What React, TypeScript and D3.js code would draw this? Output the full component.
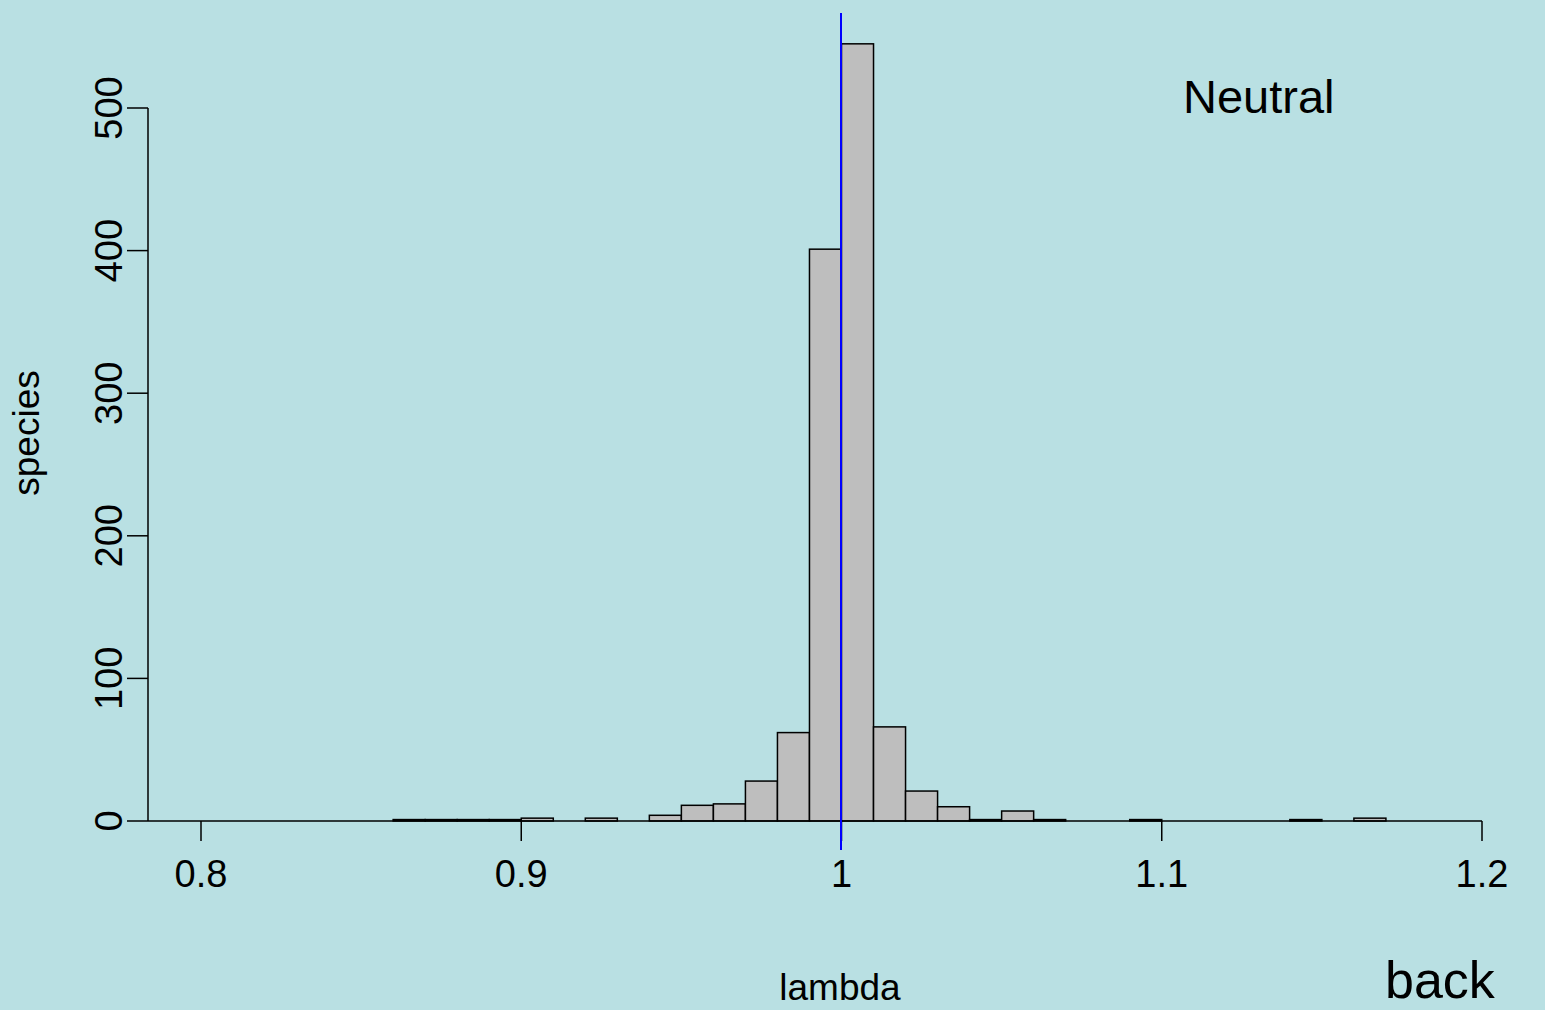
import { useEffect, useRef } from 'react';
import * as d3 from 'd3';

// histogram bins (lower edge) and species counts per bin, width 0.01
const binStarts = [
  0.86, 0.87, 0.88, 0.89, 0.9, 0.91, 0.92, 0.93, 0.94, 0.95, 0.96,
  0.97, 0.98, 0.99, 1.0, 1.01, 1.02, 1.03, 1.04, 1.05, 1.06, 1.07,
  1.08, 1.09, 1.1, 1.11, 1.12, 1.13, 1.14, 1.15, 1.16,
];
const counts = [
  1, 1, 1, 1, 2, 0, 2, 0, 4, 11, 12,
  28, 62, 401, 545, 66, 21, 10, 1, 7, 1, 0,
  0, 1, 0, 0, 0, 0, 1, 0, 2,
];
const binWidth = 0.01;
const xTicks = [0.8, 0.9, 1.0, 1.1, 1.2];
const xTickLabels = ['0.8', '0.9', '1', '1.1', '1.2'];
const yTicks = [0, 100, 200, 300, 400, 500];
const refLine = 1.0;

const W = 1545;
const H = 1010;
const FONT = '"Liberation Sans", Arial, Helvetica, sans-serif';

export default function App() {
  const svgRef = useRef<SVGSVGElement>(null);

  useEffect(() => {
    document.body.style.margin = '0';
    if (!svgRef.current) return;

    const svg = d3.select(svgRef.current);
    svg.selectAll('*').remove();

    const x = d3.scaleLinear().domain([0.8, 1.2]).range([201, 1482]);
    const y = d3.scaleLinear().domain([0, 500]).range([821, 108]);

    svg.append('rect')
      .attr('width', W)
      .attr('height', H)
      .attr('fill', '#b9e0e3');

    const bins = binStarts.map((b, i) => ({ x0: b, x1: b + binWidth, n: counts[i] }));

    svg.append('g')
      .selectAll('rect')
      .data(bins)
      .join('rect')
      .attr('x', d => x(d.x0))
      .attr('y', d => y(d.n))
      .attr('width', d => x(d.x1) - x(d.x0))
      .attr('height', d => y(0) - y(d.n))
      .attr('fill', '#bebebe')
      .attr('stroke', '#000')
      .attr('stroke-width', 1.5);

    // baseline / x axis line
    svg.append('line')
      .attr('x1', 148)
      .attr('x2', x(1.2))
      .attr('y1', y(0))
      .attr('y2', y(0))
      .attr('stroke', '#000')
      .attr('stroke-width', 1.5);

    const xAxis = svg.append('g').attr('font-family', FONT);
    xTicks.forEach((t, i) => {
      xAxis.append('line')
        .attr('x1', x(t)).attr('x2', x(t))
        .attr('y1', y(0)).attr('y2', y(0) + 20)
        .attr('stroke', '#000')
        .attr('stroke-width', 1.5);
      xAxis.append('text')
        .attr('x', x(t))
        .attr('y', 887)
        .attr('text-anchor', 'middle')
        .attr('font-size', 38)
        .text(xTickLabels[i]);
    });

    // y axis
    const yAxis = svg.append('g').attr('font-family', FONT);
    yAxis.append('line')
      .attr('x1', 148).attr('x2', 148)
      .attr('y1', y(0)).attr('y2', y(500))
      .attr('stroke', '#000')
      .attr('stroke-width', 1.5);
    yTicks.forEach(t => {
      yAxis.append('line')
        .attr('x1', 127).attr('x2', 148)
        .attr('y1', y(t)).attr('y2', y(t))
        .attr('stroke', '#000')
        .attr('stroke-width', 1.5);
      yAxis.append('text')
        .attr('transform', `translate(122,${y(t)}) rotate(-90)`)
        .attr('text-anchor', 'middle')
        .attr('font-size', 38)
        .text(String(t));
    });

    // reference line
    const rx = Math.floor(x(refLine));
    svg.append('line')
      .attr('x1', rx).attr('x2', rx)
      .attr('y1', 13).attr('y2', 850)
      .attr('stroke', '#0000ff')
      .attr('stroke-width', 2);

    const labels = svg.append('g').attr('font-family', FONT).attr('fill', '#000');
    labels.append('text')
      .attr('transform', `translate(39,433) rotate(-90)`)
      .attr('text-anchor', 'middle')
      .attr('font-size', 37)
      .text('species');
    labels.append('text')
      .attr('x', 840)
      .attr('y', 1000)
      .attr('text-anchor', 'middle')
      .attr('font-size', 37)
      .text('lambda');
    labels.append('text')
      .attr('x', 1183)
      .attr('y', 113)
      .attr('font-size', 47)
      .text('Neutral');
    labels.append('text')
      .attr('x', 1385)
      .attr('y', 998)
      .attr('font-size', 52)
      .text('back');
  }, []);

  return (
    <div style={{ position: 'absolute', left: 0, top: 0, width: W, height: H, overflow: 'hidden' }}>
      <svg ref={svgRef} width={W} height={H} style={{ display: 'block' }} />
    </div>
  );
}
